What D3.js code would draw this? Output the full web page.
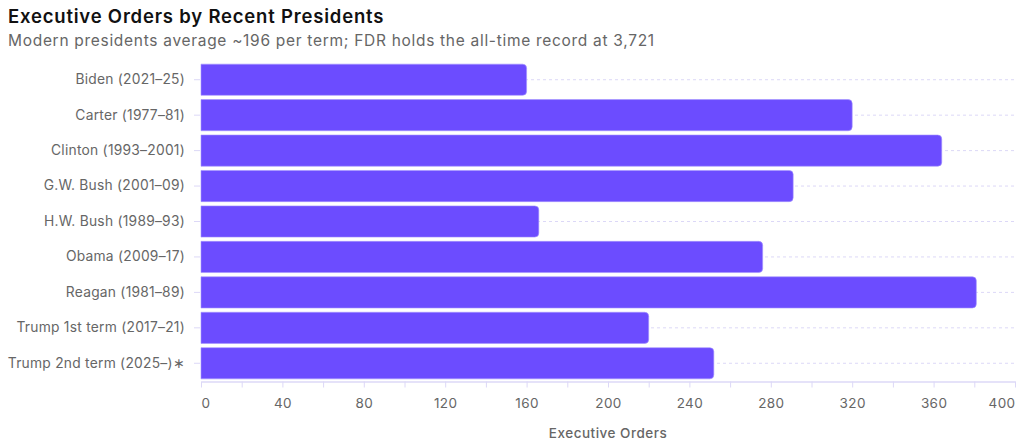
<!DOCTYPE html>
<html>
<head>
<meta charset="utf-8">
<script src="https://cdn.jsdelivr.net/npm/d3@7"></script>
<style>
    body { margin: 0; background: #fff; }
    text { font-family: Inter, "Noto Sans", sans-serif; }
</style>
</head>
<body>
<div id="chart"></div>
<script>
    // Data
    var presidents = ["Biden (2021\u201325)", "Carter (1977\u201381)", "Clinton (1993\u20132001)",
        "G.W. Bush (2001\u201309)", "H.W. Bush (1989\u201393)", "Obama (2009\u201317)",
        "Reagan (1981\u201389)", "Trump 1st term (2017\u201321)", "Trump 2nd term (2025\u2013)\u2217"]
    var orders = [160, 320, 364, 291, 166, 276, 381, 220, 252]
    var xTicks = [0, 40, 80, 120, 160, 200, 240, 280, 320, 360, 400]

    var data = presidents.map((d, i) => ({name: d, value: orders[i]}))

    var width = 1024, height = 448
    var margin = {top: 62, right: 9, bottom: 67, left: 201}
    var barColor = "#6c4cff"
    var gridColor = "#dcd8f7"
    var labelColor = "#666"

    var svg = d3.select("#chart").append("svg")
        .attr("width", width)
        .attr("height", height)

    // Title
    svg.append("text")
        .attr("x", 8).attr("y", 23)
        .attr("font-size", 18.5).attr("font-weight", 600)
        .attr("letter-spacing", 0.8)
        .attr("fill", "#111")
        .text("Executive Orders by Recent Presidents")
    svg.append("text")
        .attr("x", 8).attr("y", 46)
        .attr("font-size", 15.5)
        .attr("letter-spacing", 0.7)
        .attr("fill", "#666")
        .text("Modern presidents average ~196 per term; FDR holds the all-time record at 3,721")

    var x = d3.scaleLinear()
        .domain([0, 400])
        .range([margin.left, width - margin.right])

    var y = d3.scaleBand()
        .domain(presidents)
        .range([margin.top, height - margin.bottom])
        .paddingInner(0.12)
        .paddingOuter(0.06)

    // Dashed gridlines at band centres
    svg.append("g")
        .selectAll("line")
        .data(presidents)
        .join("line")
        .attr("x1", x(0)).attr("x2", x(400))
        .attr("y1", d => y(d) + y.bandwidth() / 2)
        .attr("y2", d => y(d) + y.bandwidth() / 2)
        .attr("stroke", gridColor)
        .attr("stroke-dasharray", "3,3")

    // Bars with rounded right end
    var r = 4
    function barPath(d) {
        var x0 = x(0), x1 = x(d.value), y0 = y(d.name), y1 = y0 + y.bandwidth()
        return `M${x0},${y0}H${x1 - r}Q${x1},${y0} ${x1},${y0 + r}V${y1 - r}Q${x1},${y1} ${x1 - r},${y1}H${x0}Z`
    }
    svg.append("g")
        .selectAll("path")
        .data(data)
        .join("path")
        .attr("d", barPath)
        .attr("fill", barColor)
        .attr("stroke", "#a493ff")
        .attr("stroke-width", 0.6)

    // X axis
    var xAxis = svg.append("g")
        .attr("transform", `translate(0,${height - margin.bottom + 0.5})`)
        .call(d3.axisBottom(x).tickValues(d3.range(0, 401, 20)).tickSize(6).tickSizeOuter(0).tickPadding(11)
            .tickFormat(d => xTicks.includes(d) ? d : ""))
    xAxis.select(".domain").attr("stroke", gridColor).attr("stroke-width", 1.5)
    xAxis.selectAll(".tick line").attr("stroke", gridColor)
    xAxis.selectAll(".tick text")
        .attr("font-size", 13.5).attr("fill", labelColor)
        .attr("font-family", "Inter, sans-serif")
        .attr("letter-spacing", 0.4)
        .attr("text-anchor", d => d === 0 ? "start" : d === 400 ? "end" : "middle")

    svg.append("text")
        .attr("x", (x(0) + x(400)) / 2).attr("y", 438)
        .attr("text-anchor", "middle")
        .attr("font-size", 13.5).attr("font-weight", 500)
        .attr("letter-spacing", 0.5)
        .attr("fill", labelColor)
        .text("Executive Orders")

    // Y axis
    var yAxis = svg.append("g")
        .attr("transform", `translate(${margin.left - 1},0)`)
        .call(d3.axisLeft(y).tickSize(6).tickPadding(9))
    yAxis.select(".domain").remove()
    yAxis.selectAll(".tick line").attr("stroke", gridColor)
    yAxis.selectAll(".tick text")
        .attr("font-size", 13.8).attr("fill", labelColor)
        .attr("font-family", "Inter, sans-serif")
        .attr("letter-spacing", 0.25)
</script>
</body>
</html>
